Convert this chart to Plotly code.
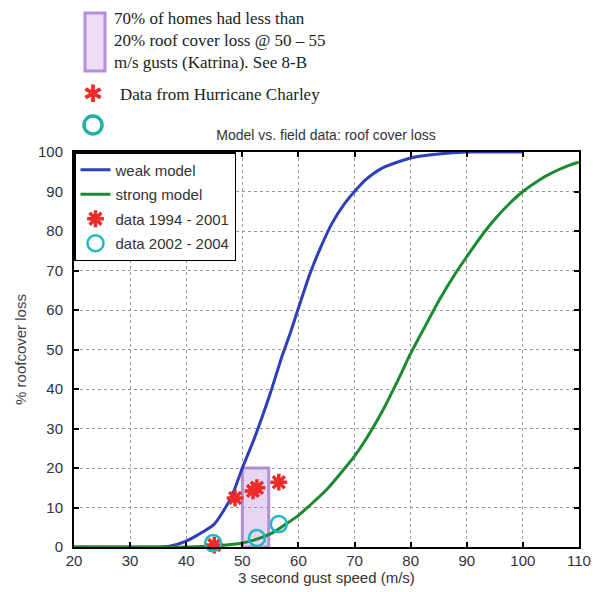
import plotly.graph_objects as go

# ---- data ----
weak_x = [20, 30, 35, 37, 40, 42, 45, 48, 50, 52, 55, 57, 58.5, 60, 62, 64, 66, 68, 70, 72, 75, 80, 85, 90, 95, 100]
weak_y = [0, 0, 0, 0.2, 1.5, 3, 5.8, 12.5, 20, 27, 39, 48, 54, 60.5, 69, 76, 82, 86.5, 90, 93, 96, 98.5, 99.5, 100, 100, 100]

strong_x = [20, 40, 45, 50, 55, 58, 60, 62, 65, 68, 70, 72, 75, 78, 80, 83, 85, 88, 90, 93, 95, 98, 100, 103, 105, 108, 110]
strong_y = [0, 0, 0.3, 1, 3.3, 6, 8, 10.5, 14.5, 19.5, 23, 27.2, 34.5, 43, 49, 57, 62.3, 69.3, 73.5, 79.5, 83, 87.5, 90, 93, 94.6, 96.5, 97.4]

d1_x = [45, 48.7, 51.9, 52.6, 56.5]
d1_y = [0.5, 12.4, 14.2, 15, 16.4]

d2_x = [44.8, 52.6, 56.5]
d2_y = [1, 2.3, 5.8]

box_x = [50, 54.7]
box_y = [0, 20]

x_ticks = list(range(20, 111, 10))
y_ticks = list(range(0, 101, 10))

# ---- layout geometry (pixels); page body has an 8px margin ----
OFF = 8
W, H = 599 - OFF, 592 - OFF
L, R, T, B = 74 - OFF, 20, 152 - OFF, 45
PW, PH = W - L - R, H - T - B

def px(xp):
    return (xp - OFF - L) / PW

def py(yp):
    return (H - B - (yp - OFF)) / PH

blue = "#2f3fb8"
green = "#1b8a30"
red = "#ee2a2a"
cyan = "#22b6c2"
purple = "#b48ed8"

fig = go.Figure()
fig.add_trace(go.Scatter(x=weak_x, y=weak_y, mode="lines", name="weak model", legendgroup="a",
                         line=dict(color=blue, width=3, shape="spline", smoothing=0.6)))
fig.add_trace(go.Scatter(x=strong_x, y=strong_y, mode="lines", name="strong model", legendgroup="b",
                         line=dict(color=green, width=3, shape="spline", smoothing=0.8)))
fig.add_trace(go.Scatter(x=d1_x, y=d1_y, mode="markers", name="data 1994 - 2001", legendgroup="c",
                         marker=dict(symbol="asterisk-open", size=14, color=red,
                                     line=dict(width=3.5, color=red)), cliponaxis=False))
fig.add_trace(go.Scatter(x=d2_x, y=d2_y, mode="markers", name="data 2002 - 2004", legendgroup="d",
                         marker=dict(symbol="circle-open", size=16, color=cyan,
                                     line=dict(width=2.5, color=cyan)), cliponaxis=False))

shapes = [
    dict(type="rect", xref="x", yref="y", x0=box_x[0], x1=box_x[1], y0=box_y[0], y1=box_y[1],
         fillcolor="rgba(200,165,230,0.45)", line=dict(color=purple, width=3), layer="below"),
    # top decoration box
    dict(type="rect", xref="paper", yref="paper", x0=px(85), x1=px(105), y0=py(71), y1=py(13),
         fillcolor="rgba(225,200,240,0.6)", line=dict(color=purple, width=3)),
    # top decoration circle
    dict(type="circle", xref="paper", yref="paper", xsizemode="pixel", ysizemode="pixel",
         xanchor=px(93), yanchor=py(125), x0=-9, x1=9, y0=-9, y1=9,
         line=dict(color="#1fb0a6", width=3.5)),
]

annotations = [
    dict(text="70% of homes had less than<br>20% roof cover loss @ 50 – 55<br>m/s gusts (Katrina). See 8-B",
         xref="paper", yref="paper", x=px(113), y=py(8), xanchor="left", yanchor="top",
         align="left", showarrow=False, borderpad=0,
         font=dict(family="Liberation Serif", size=17, color="#222")),
    dict(text="Data from Hurricane Charley", xref="paper", yref="paper", x=px(118), y=py(94),
         xanchor="left", yanchor="middle", showarrow=False,
         font=dict(family="Liberation Serif", size=17, color="#222")),
    dict(text="✱", xref="paper", yref="paper", x=px(93), y=py(94),
         xanchor="center", yanchor="middle", showarrow=False,
         font=dict(family="DejaVu Sans", size=24, color=red)),
]

fig.update_layout(
    width=W, height=H,
    margin=dict(l=L, r=R, t=T, b=B),
    plot_bgcolor="white", paper_bgcolor="white",
    font=dict(family="Liberation Sans, Arial", size=15, color="#333"),
    title=dict(text="Model vs. field data: roof cover loss", x=px(326), xref="paper",
               xanchor="center", y=1 - (135 - OFF) / H, yref="container", yanchor="middle",
               font=dict(size=14, color="#333")),
    legend=dict(x=0, y=1, xanchor="left", yanchor="top", bgcolor="white",
                bordercolor="black", borderwidth=1.5, tracegroupgap=2,
                font=dict(size=15, color="#333")),
    shapes=shapes, annotations=annotations,
)

axis_common = dict(showline=True, linecolor="black", linewidth=2, mirror="ticks",
                   ticks="inside", ticklen=5, tickwidth=1.5, tickcolor="black",
                   showgrid=True, gridcolor="#9a9a9a", griddash="dot", gridwidth=1,
                   zeroline=False, automargin=False, tickfont=dict(size=15, color="#333"))

fig.update_xaxes(range=[20, 110], tickvals=x_ticks, ticklabelstandoff=-1,
                 title=dict(text="3 second gust speed (m/s)", standoff=0,
                            font=dict(size=15, color="#333")), **axis_common)
fig.update_yaxes(range=[0, 100], tickvals=y_ticks, ticklabelstandoff=6,
                 title=dict(text="% roofcover loss", standoff=8,
                            font=dict(size=15, color="#444")), **axis_common)

fig.write_html("out.html")
